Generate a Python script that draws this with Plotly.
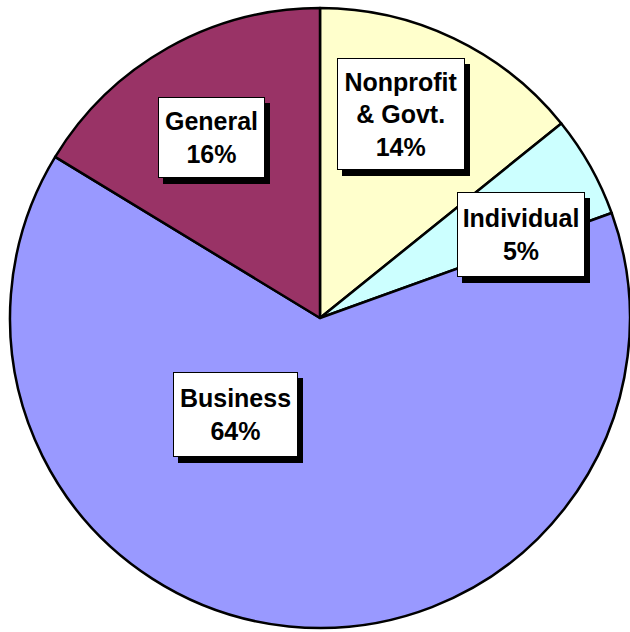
import plotly.graph_objects as go

categories = ["Nonprofit & Govt.", "Individual", "Business", "General"]
values = [14.2, 5.3, 64.2, 16.3]
label_texts = ["Nonprofit<br>& Govt.<br>14%", "Individual<br>5%", "Business<br>64%", "General<br>16%"]
colors = ["#FFFFCC", "#CCFFFF", "#9999FF", "#993366"]

W, H = 630, 632
# label box centres (pixels) and sizes
box_centers = [(401, 114), (521, 234.5), (235.5, 414.5), (211.5, 137.5)]
box_sizes = [(128, 112), (128, 85), (125, 85), (107, 81)]

fig = go.Figure(go.Pie(
    labels=categories, values=values, sort=False, direction="clockwise", rotation=0,
    marker=dict(colors=colors, line=dict(color="black", width=2.5)),
    textinfo="none", hoverinfo="label+percent", showlegend=False,
    domain=dict(x=[10 / W, 1], y=[2 / H, 626 / H]),
))

fam = "Liberation Sans, Arial, sans-serif"
annotations = []
# drop shadows
for (cx, cy), (bw, bh) in zip(box_centers, box_sizes):
    annotations.append(dict(
        x=(cx + 5) / W, y=1 - (cy + 6) / H, xref="paper", yref="paper",
        xanchor="center", yanchor="middle", showarrow=False,
        text=" ", font=dict(family=fam, size=25, color="black"),
        bgcolor="black", bordercolor="black", borderwidth=1, borderpad=0,
        width=bw - 2, height=bh - 2,
    ))
# label boxes
for (cx, cy), (bw, bh), t in zip(box_centers, box_sizes, label_texts):
    annotations.append(dict(
        x=cx / W, y=1 - cy / H, xref="paper", yref="paper",
        xanchor="center", yanchor="middle", showarrow=False,
        text="<b>" + t + "</b>", font=dict(family=fam, size=25, color="black"),
        bgcolor="white", bordercolor="black", borderwidth=1, borderpad=0,
        width=bw - 2, height=bh - 2,
    ))

fig.update_layout(
    width=W, height=H, margin=dict(l=0, r=0, t=0, b=0),
    paper_bgcolor="white", plot_bgcolor="white",
    annotations=annotations,
)
fig.write_html("out.html", config={"displayModeBar": False},
               post_script="document.body.style.margin='0';document.body.style.overflow='hidden';")
